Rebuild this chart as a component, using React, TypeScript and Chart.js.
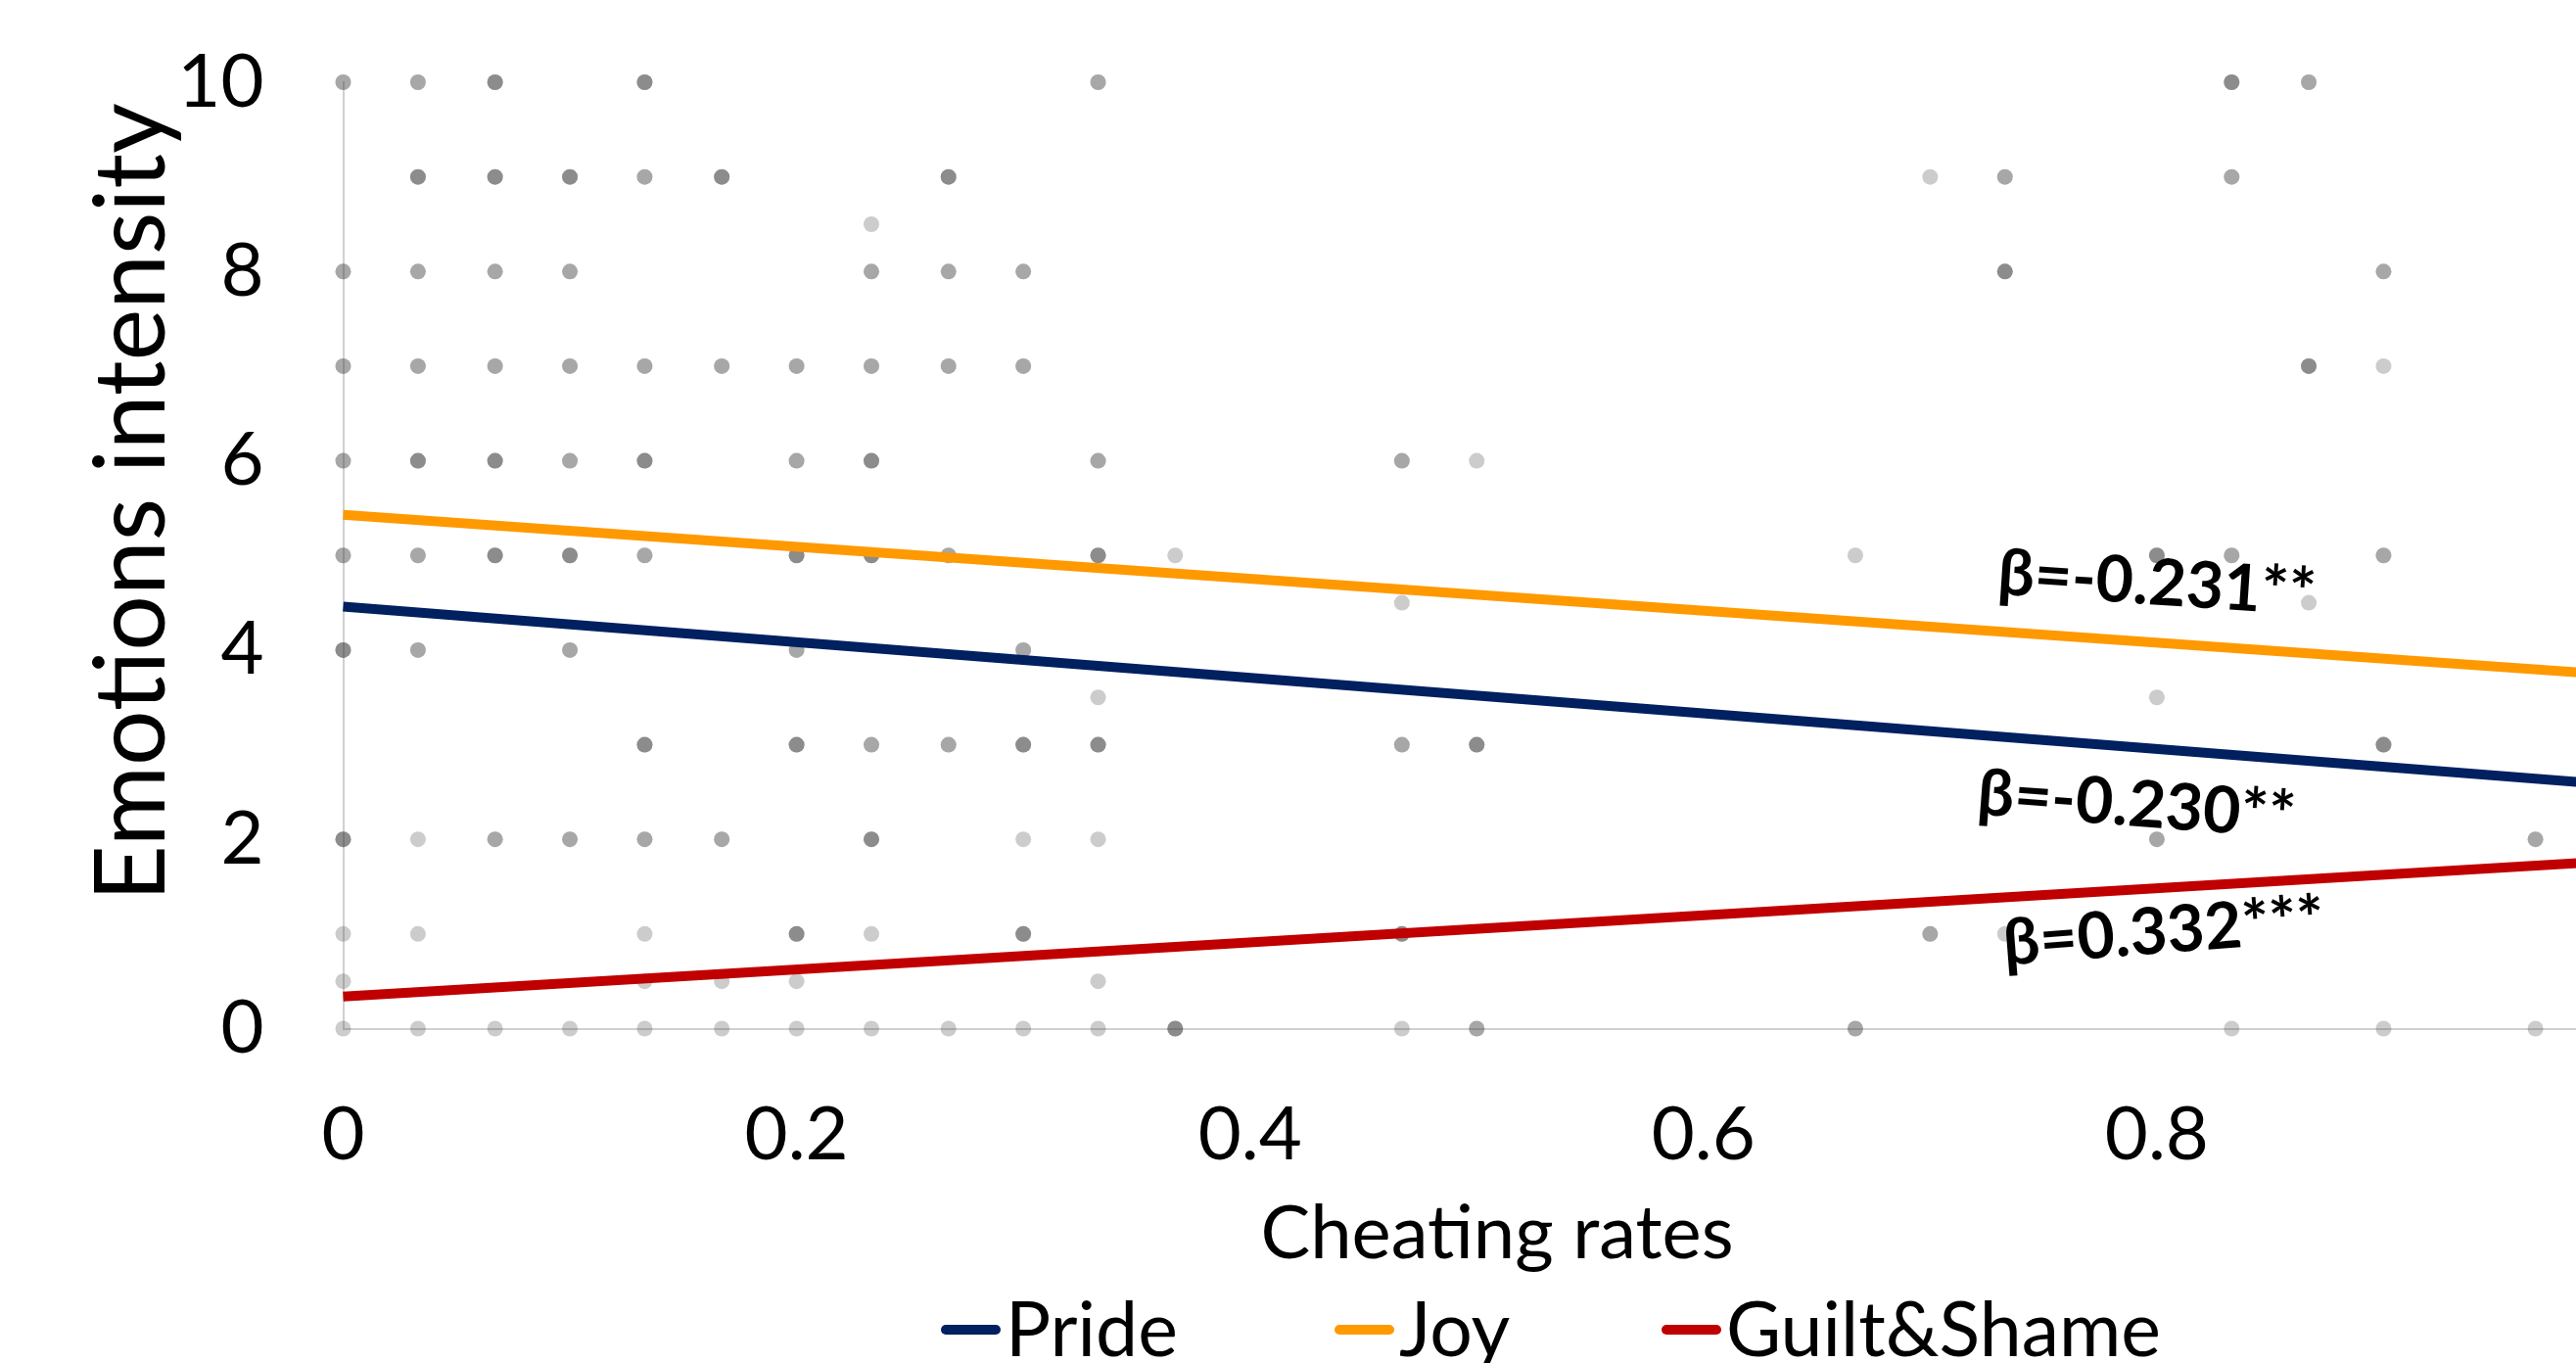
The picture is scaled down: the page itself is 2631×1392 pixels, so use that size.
import React, { useEffect, useRef } from 'react';
import { Chart, registerables } from 'chart.js';

Chart.register(...registerables);

// ---------- data ----------
const seriesNames = ['Pride', 'Joy', 'Guilt&Shame'];
const seriesColors = ['#002060', '#FF9900', '#C00000'];

// individual responses: [cheating rate, emotion intensity]
const pridePoints: number[][] = [
  [0, 10], [0.033, 10], [0.067, 10], [0.133, 10], [0.333, 10], [0.833, 10], [0.867, 10],
  [0.033, 9], [0.067, 9], [0.1, 9], [0.133, 9], [0.167, 9], [0.267, 9], [0.733, 9], [0.833, 9],
  [0, 8], [0.033, 8], [0.067, 8], [0.1, 8], [0.233, 8], [0.267, 8], [0.3, 8], [0.733, 8], [0.9, 8],
  [0, 7], [0.033, 7], [0.067, 7], [0.1, 7], [0.133, 7], [0.167, 7], [0.2, 7], [0.233, 7], [0.267, 7], [0.3, 7], [0.867, 7],
  [0, 6], [0.033, 6], [0.067, 6], [0.1, 6], [0.133, 6], [0.2, 6], [0.233, 6], [0.333, 6], [0.467, 6],
  [0, 5], [0.033, 5], [0.067, 5], [0.1, 5], [0.133, 5], [0.2, 5], [0.233, 5], [0.267, 5], [0.333, 5], [0.8, 5], [0.833, 5], [0.9, 5],
  [0, 4], [0.033, 4], [0.1, 4], [0.2, 4], [0.3, 4],
  [0.333, 3.5], [0.8, 3.5],
  [0.133, 3], [0.2, 3], [0.233, 3], [0.267, 3], [0.3, 3], [0.333, 3], [0.467, 3], [0.5, 3], [0.9, 3],
  [0, 2], [0.067, 2], [0.1, 2], [0.133, 2], [0.167, 2], [0.233, 2], [0.8, 2], [0.967, 2],
  [0.2, 1], [0.3, 1], [0.467, 1],
  [0.367, 0], [0.5, 0], [0.667, 0],
];

const joyPoints: number[][] = [
  [0, 10], [0.033, 10], [0.067, 10], [0.133, 10], [0.333, 10], [0.833, 10], [0.867, 10],
  [0.033, 9], [0.067, 9], [0.1, 9], [0.133, 9], [0.167, 9], [0.267, 9], [0.7, 9], [0.733, 9], [0.833, 9],
  [0.233, 8.5],
  [0, 8], [0.033, 8], [0.067, 8], [0.1, 8], [0.233, 8], [0.267, 8], [0.3, 8], [0.733, 8], [0.9, 8],
  [0, 7], [0.033, 7], [0.067, 7], [0.1, 7], [0.133, 7], [0.167, 7], [0.2, 7], [0.233, 7], [0.267, 7], [0.3, 7], [0.867, 7], [0.9, 7],
  [0, 6], [0.033, 6], [0.067, 6], [0.1, 6], [0.133, 6], [0.2, 6], [0.233, 6], [0.333, 6], [0.467, 6], [0.5, 6],
  [0, 5], [0.033, 5], [0.067, 5], [0.1, 5], [0.133, 5], [0.2, 5], [0.233, 5], [0.267, 5], [0.333, 5], [0.367, 5], [0.667, 5], [0.8, 5], [0.833, 5], [0.9, 5],
  [0.467, 4.5], [0.867, 4.5],
  [0, 4], [0.033, 4], [0.1, 4], [0.2, 4], [0.3, 4],
  [0.133, 3], [0.2, 3], [0.233, 3], [0.267, 3], [0.3, 3], [0.333, 3], [0.467, 3], [0.5, 3], [0.9, 3],
  [0, 2], [0.233, 2],
  [0.2, 1], [0.3, 1], [0.467, 1], [0.7, 1],
  [0.367, 0],
];

const guiltPoints: number[][] = [
  [0.067, 10], [0.133, 10], [0.833, 10],
  [0.033, 9], [0.067, 9], [0.1, 9], [0.167, 9], [0.267, 9],
  [0.733, 8],
  [0.867, 7],
  [0.033, 6], [0.067, 6], [0.133, 6], [0.233, 6],
  [0.067, 5], [0.1, 5], [0.2, 5], [0.233, 5], [0.333, 5], [0.8, 5],
  [0, 4],
  [0.133, 3], [0.2, 3], [0.3, 3], [0.333, 3], [0.5, 3], [0.9, 3],
  [0, 2], [0.033, 2], [0.067, 2], [0.1, 2], [0.133, 2], [0.167, 2], [0.233, 2], [0.3, 2], [0.333, 2], [0.8, 2], [0.967, 2],
  [0, 1], [0.033, 1], [0.133, 1], [0.2, 1], [0.233, 1], [0.3, 1], [0.467, 1], [0.7, 1], [0.733, 1],
  [0, 0.5], [0.133, 0.5], [0.167, 0.5], [0.2, 0.5], [0.333, 0.5],
  [0, 0], [0.033, 0], [0.067, 0], [0.1, 0], [0.133, 0], [0.167, 0], [0.2, 0], [0.233, 0], [0.267, 0], [0.3, 0],
  [0.333, 0], [0.367, 0], [0.467, 0], [0.5, 0], [0.667, 0], [0.833, 0], [0.9, 0], [0.967, 0],
];

// fitted regression lines, evaluated at fitX
const fitX = [0, 1];
const prideFit = [4.46, 2.58];
const joyFit = [5.43, 3.74];
const guiltFit = [0.34, 1.77];

const betaLabels = ['β=-0.231**', 'β=-0.230**', 'β=0.332***'];

const xTickValues = [0, 0.2, 0.4, 0.6, 0.8, 1];
const yTickValues = [0, 2, 4, 6, 8, 10];

const xTitle = 'Cheating rates';
const yTitle = 'Emotions intensity';

// ---------- styling / placement ----------
const FONT = 'Lato';
const POINT_FILL = 'rgba(64,64,64,0.267)';
const CANVAS_W = 2720;
const CANVAS_H = 1440;
const PLOT_LEFT = 350.5;
const PLOT_RIGHT = 2666;
const PLOT_TOP = 84;
const PLOT_BOTTOM = 1050.5;

const betaPlacement = [
  { x: 0.8, y: 4.7, angle: 3.8 },
  { x: 0.791, y: 2.36, angle: 4.3 },
  { x: 0.803, y: 1.02, angle: -4.4 },
];

const legendItemX = [966, 1368, 1702];

const overlayPlugin = {
  id: 'overlay',
  afterDatasetsDraw(chart: any) {
    const ctx: CanvasRenderingContext2D = chart.ctx;
    const xs = chart.scales.x;
    const ys = chart.scales.y;
    ctx.save();
    ctx.fillStyle = '#000';

    // beta annotations
    betaLabels.forEach((t, i) => {
      const p = betaPlacement[i];
      ctx.save();
      ctx.translate(xs.getPixelForValue(p.x), ys.getPixelForValue(p.y));
      ctx.rotate((p.angle * Math.PI) / 180);
      ctx.font = `bold 66px ${FONT}`;
      ctx.textAlign = 'center';
      ctx.textBaseline = 'middle';
      ctx.fillText(t, 0, 0);
      ctx.restore();
    });

    // axis titles
    ctx.save();
    ctx.font = `100px ${FONT}`;
    ctx.textAlign = 'center';
    ctx.textBaseline = 'alphabetic';
    ctx.translate(168, 513);
    ctx.rotate(-Math.PI / 2);
    ctx.fillText(yTitle, 0, 0);
    ctx.restore();

    ctx.font = `76px ${FONT}`;
    ctx.textAlign = 'center';
    ctx.textBaseline = 'alphabetic';
    ctx.fillText(xTitle, 1529, 1285);

    // legend
    seriesNames.forEach((name, i) => {
      const x0 = legendItemX[i];
      ctx.beginPath();
      ctx.lineCap = 'round';
      ctx.lineWidth = 10;
      ctx.strokeStyle = seriesColors[i];
      ctx.moveTo(x0, 1358);
      ctx.lineTo(x0 + 51, 1358);
      ctx.stroke();
      ctx.font = `77px ${FONT}`;
      ctx.textAlign = 'left';
      ctx.fillStyle = '#000';
      ctx.fillText(name, x0 + 61, 1385);
    });
    ctx.restore();
  },
};

export default function App() {
  const ref = useRef<HTMLCanvasElement>(null);

  useEffect(() => {
    const canvas = ref.current;
    if (!canvas) return;
    const toXY = (arr: number[][]) => arr.map(([x, y]) => ({ x, y }));
    const scatterStyle = {
      type: 'scatter' as const,
      showLine: false,
      pointRadius: 8,
      pointHoverRadius: 8,
      pointBackgroundColor: POINT_FILL,
      backgroundColor: POINT_FILL,
      pointBorderWidth: 0,
      borderWidth: 0,
      order: 1,
      clip: false as any,
    };
    const lineStyle = (i: number, ys: number[]) => ({
      type: 'line' as const,
      label: seriesNames[i],
      data: fitX.map((x, k) => ({ x, y: ys[k] })),
      borderColor: seriesColors[i],
      backgroundColor: seriesColors[i],
      borderWidth: 10,
      pointRadius: 0,
      fill: false,
      tension: 0,
      order: 0,
      clip: false as any,
    });

    const tickFont = { family: FONT, size: 76 };
    const chart = new Chart(canvas, {
      type: 'scatter',
      data: {
        datasets: [
          { label: seriesNames[0] + ' responses', data: toXY(pridePoints), ...scatterStyle },
          { label: seriesNames[1] + ' responses', data: toXY(joyPoints), ...scatterStyle },
          { label: seriesNames[2] + ' responses', data: toXY(guiltPoints), ...scatterStyle },
          lineStyle(0, prideFit),
          lineStyle(1, joyFit),
          lineStyle(2, guiltFit),
        ] as any,
      },
      options: {
        animation: false,
        responsive: false,
        devicePixelRatio: 1,
        layout: { padding: { top: PLOT_TOP, right: CANVAS_W - PLOT_RIGHT, left: 0, bottom: 0 } },
        plugins: {
          legend: { display: false },
          tooltip: { enabled: false },
          title: { display: false },
        },
        scales: {
          x: {
            type: 'linear',
            min: 0,
            max: 1,
            afterFit: (s: any) => {
              s.height = CANVAS_H - PLOT_BOTTOM;
              s.paddingLeft = 0;
              s.paddingRight = 0;
            },
            afterBuildTicks: (s: any) => {
              s.ticks = xTickValues.map((v) => ({ value: v }));
            },
            ticks: {
              font: tickFont,
              color: '#000',
              padding: 63,
              maxRotation: 0,
              autoSkip: false,
              callback: (v: any) => String(v),
            },
            grid: { display: false, drawTicks: false },
            border: { display: true, color: '#D0D0D0', width: 2 },
          },
          y: {
            type: 'linear',
            min: 0,
            max: 10,
            afterFit: (s: any) => {
              s.width = PLOT_LEFT;
              s.paddingTop = 0;
              s.paddingBottom = 0;
            },
            afterBuildTicks: (s: any) => {
              s.ticks = yTickValues.map((v) => ({ value: v }));
            },
            ticks: {
              font: tickFont,
              color: '#000',
              padding: 81,
              autoSkip: false,
              callback: (v: any) => String(v),
            },
            grid: { display: false, drawTicks: false },
            border: { display: true, color: '#D0D0D0', width: 2 },
          },
        },
      } as any,
      plugins: [overlayPlugin],
    });
    return () => chart.destroy();
  }, []);

  return (
    <div
      style={{
        position: 'fixed',
        left: 0,
        top: 0,
        width: 2631,
        height: 1392,
        overflow: 'hidden',
        background: '#fff',
      }}
    >
      <canvas
        ref={ref}
        width={CANVAS_W}
        height={CANVAS_H}
        style={{ position: 'absolute', left: 0, top: 0, width: CANVAS_W, height: CANVAS_H, display: 'block' }}
      />
    </div>
  );
}
